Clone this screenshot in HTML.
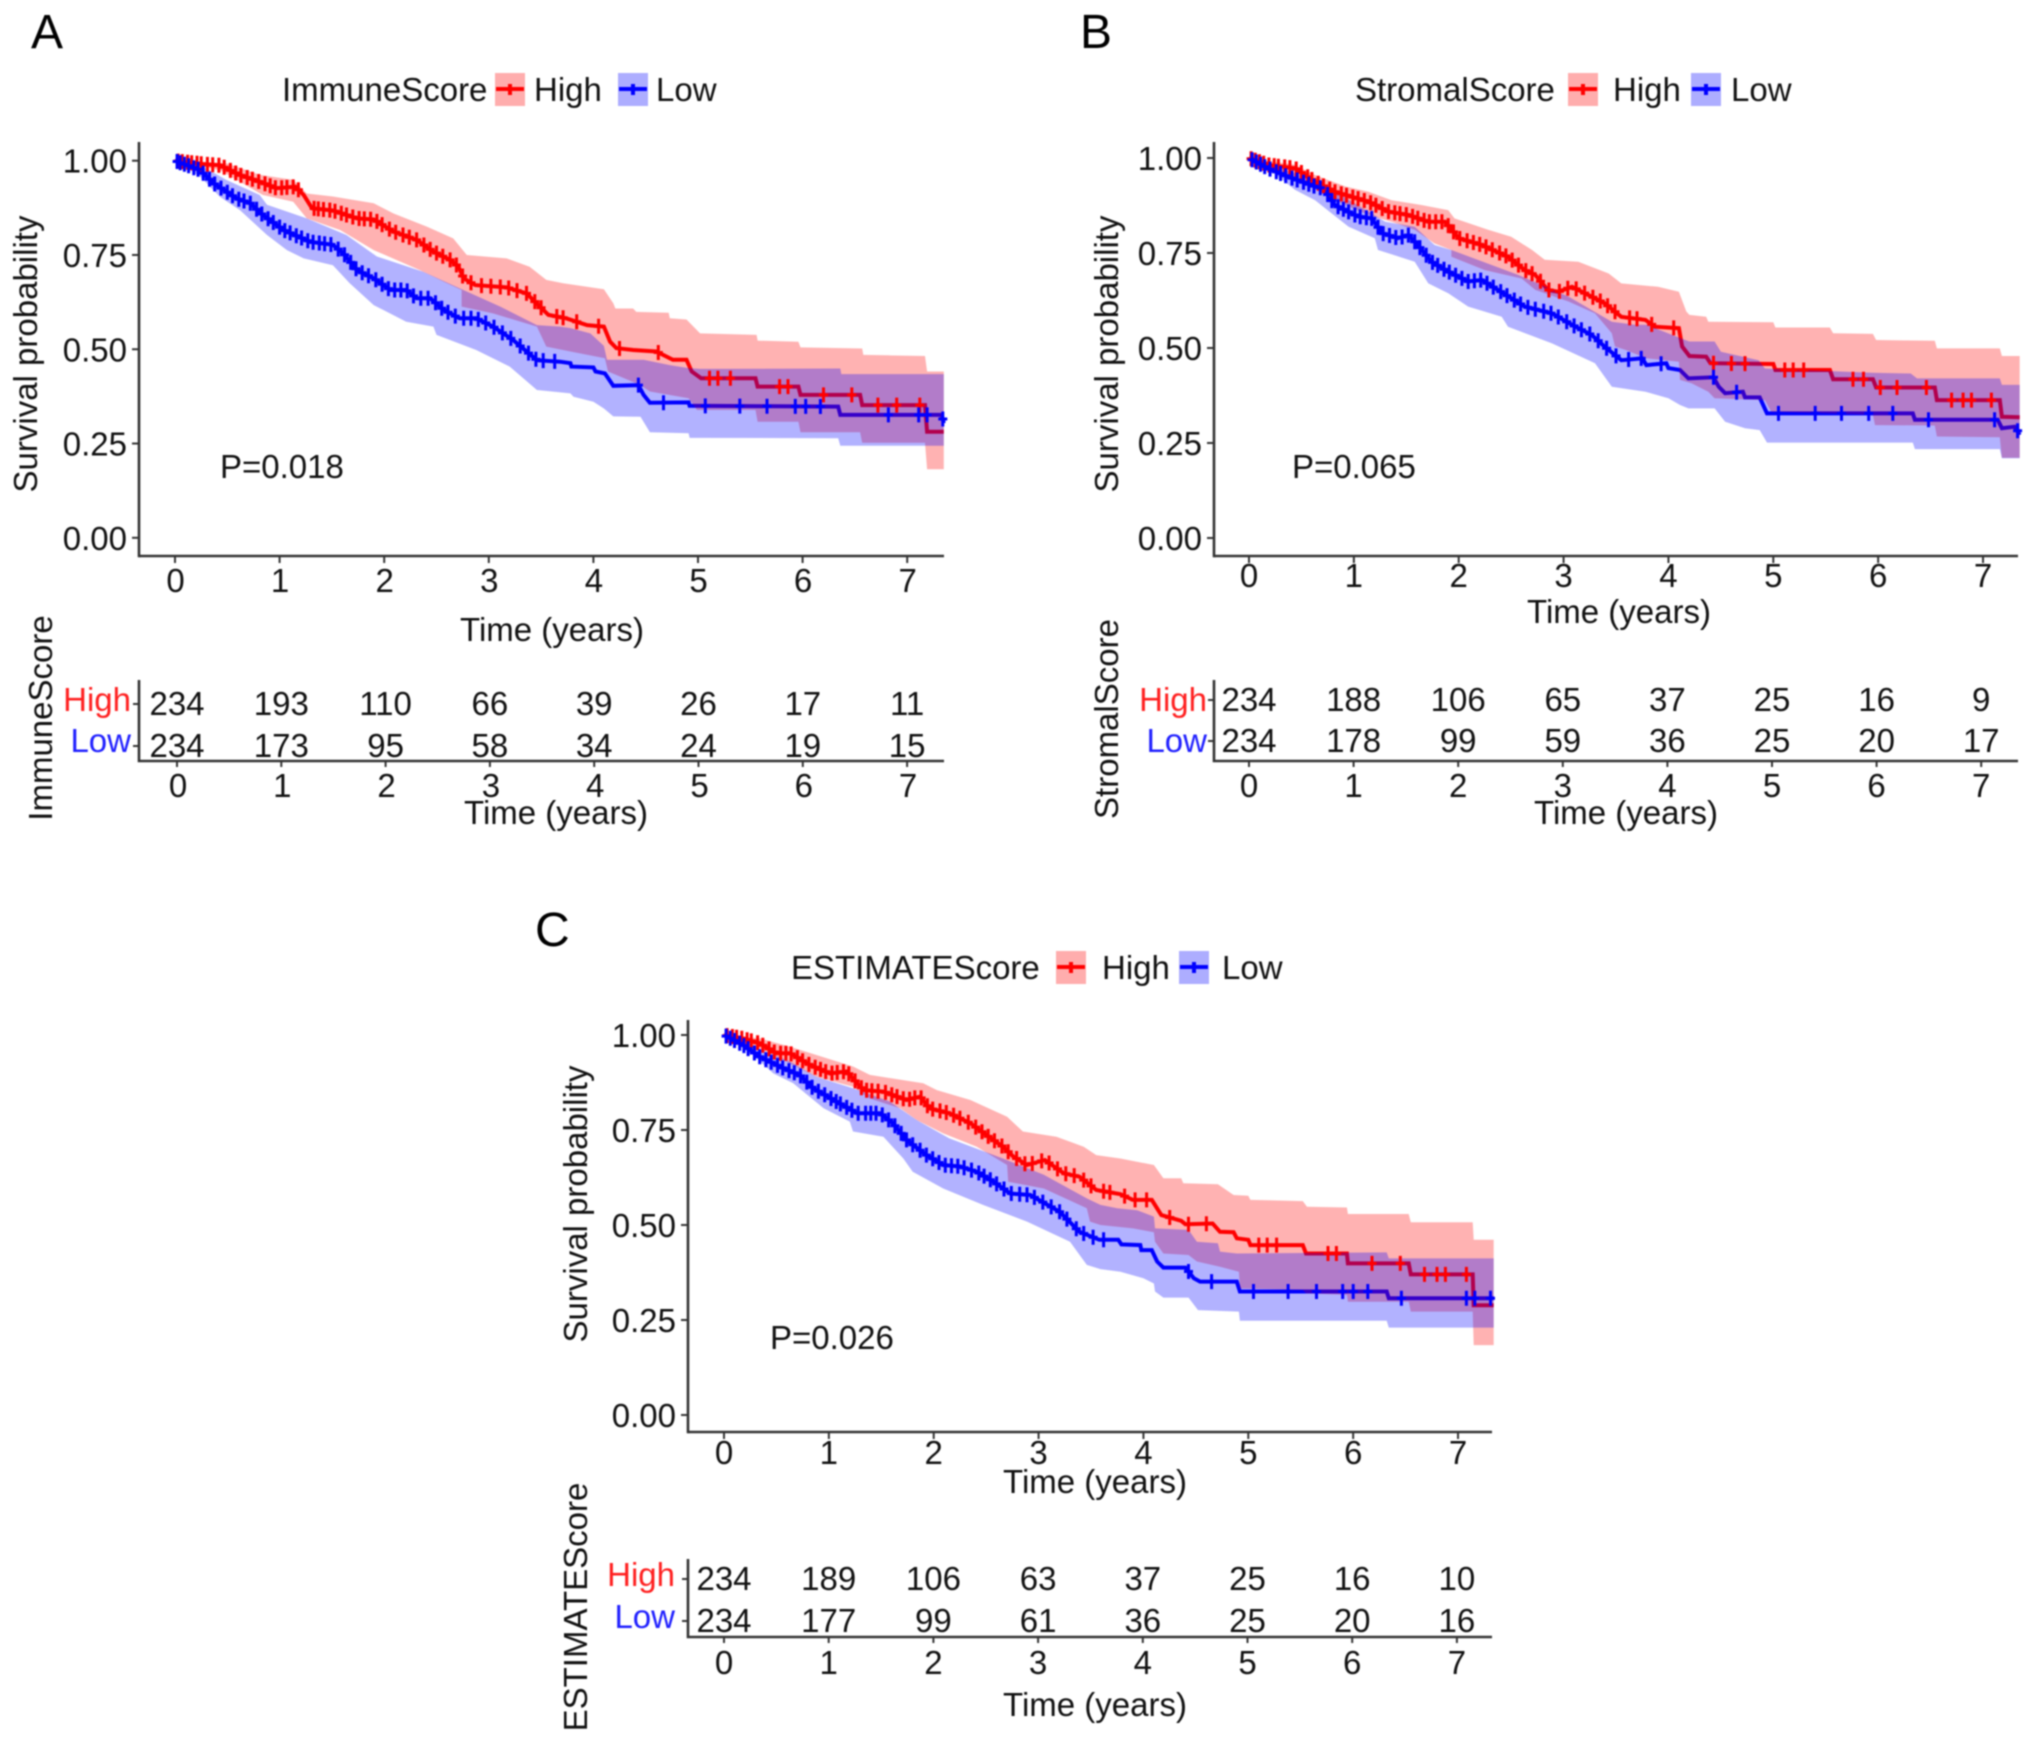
<!DOCTYPE html>
<html lang="en">
<head>
<meta charset="utf-8">
<title>Kaplan-Meier survival curves by ImmuneScore, StromalScore and ESTIMATEScore</title>
<style>
  html, body { margin: 0; padding: 0; background: #fff; }
  #figure { display: block; filter: blur(0.8px); }
  text { font-family: "Liberation Sans", sans-serif; font-size: 33px; fill: #111; }
  .letter { font-size: 48px; fill: #000; }
  .red { fill: #ff2020; }
  .blue { fill: #2020ff; }
</style>
</head>
<body>
<svg id="figure" xmlns="http://www.w3.org/2000/svg" width="2032" height="1742" viewBox="0 0 2032 1742">
  <rect width="2032" height="1742" fill="#fff"/>

  <text class="letter" x="31" y="48">A</text>
  <text x="282" y="101">ImmuneScore</text>
  <text x="534" y="101">High</text>
  <text x="656" y="101">Low</text>
  <text transform="translate(37,354) rotate(-90)" text-anchor="middle">Survival probability</text>
  <text x="552" y="641" text-anchor="middle">Time (years)</text>
  <text x="220" y="478">P=0.018</text>
  <text transform="translate(52,718) rotate(-90)" text-anchor="middle">ImmuneScore</text>
  <text class="red" x="131" y="711" text-anchor="end">High</text>
  <text class="blue" x="131" y="752" text-anchor="end">Low</text>
  <text x="556" y="824" text-anchor="middle">Time (years)</text>

  <text class="letter" x="1080" y="48">B</text>
  <text x="1355" y="101">StromalScore</text>
  <text x="1613" y="101">High</text>
  <text x="1731" y="101">Low</text>
  <text transform="translate(1118,354) rotate(-90)" text-anchor="middle">Survival probability</text>
  <text x="1619" y="623" text-anchor="middle">Time (years)</text>
  <text x="1292" y="478">P=0.065</text>
  <text transform="translate(1118,719) rotate(-90)" text-anchor="middle">StromalScore</text>
  <text class="red" x="1207" y="711" text-anchor="end">High</text>
  <text class="blue" x="1207" y="752" text-anchor="end">Low</text>
  <text x="1626" y="824" text-anchor="middle">Time (years)</text>

  <text class="letter" x="535" y="946">C</text>
  <text x="791" y="979">ESTIMATEScore</text>
  <text x="1102" y="979">High</text>
  <text x="1222" y="979">Low</text>
  <text transform="translate(587,1204) rotate(-90)" text-anchor="middle">Survival probability</text>
  <text x="1095" y="1493" text-anchor="middle">Time (years)</text>
  <text x="770" y="1349">P=0.026</text>
  <text transform="translate(587,1607) rotate(-90)" text-anchor="middle">ESTIMATEScore</text>
  <text class="red" x="675" y="1586" text-anchor="end">High</text>
  <text class="blue" x="675" y="1628" text-anchor="end">Low</text>
  <text x="1095" y="1716" text-anchor="middle">Time (years)</text>
</svg>

<script>
// Shared tick labels
const yTickValues = [0, 0.25, 0.5, 0.75, 1];
const yTickLabels = ["0.00", "0.25", "0.50", "0.75", "1.00"];
const xTickValues = [0, 1, 2, 3, 4, 5, 6, 7];

// ---------- Panel A: ImmuneScore ----------
const aHighT = [0,.27,.43,.62,.81,.97,1.15,1.23,1.31,1.51,1.74,1.90,2.09,2.31,2.47,2.63,2.71,2.76,2.87,3.17,3.36,3.57,3.74,3.94,4.10,4.16,4.22,4.38,4.60,4.76,4.89,4.94,5.03,5.55,5.57,5.96,5.98,6.55,6.57,7.17,7.19,7.36];
const aHighS = [1,.991,.988,.962,.944,.927,.931,.909,.874,.868,.847,.844,.812,.790,.759,.737,.719,.688,.670,.664,.648,.591,.582,.564,.560,.520,.503,.498,.494,.472,.472,.441,.423,.423,.401,.401,.379,.379,.352,.352,.281,.281];
const aHighUpT = [0,.49,.81,1.13,1.26,1.51,1.90,2.09,2.41,2.66,2.79,3.17,3.39,3.55,3.71,4.10,4.19,4.21,4.38,4.41,4.72,4.73,4.89,5.02,5.56,5.57,5.96,5.98,6.57,6.58,7.17,7.19,7.36];
const aHighUp = [1,.993,.963,.949,.913,.905,.887,.860,.825,.794,.750,.741,.719,.684,.675,.659,.622,.608,.608,.599,.597,.582,.579,.542,.538,.523,.520,.505,.502,.485,.482,.441,.441];
const aHighLoT = [0,.43,.62,.84,1.13,1.26,1.58,1.90,2.34,2.60,2.74,2.74,3.04,3.46,3.55,3.78,4.11,4.14,4.45,4.54,4.91,4.99,5.55,5.57,5.96,5.98,6.55,6.57,7.17,7.19,7.36];
const aHighLo = [1,.975,.944,.909,.891,.847,.816,.763,.710,.675,.657,.613,.595,.560,.507,.494,.476,.441,.405,.388,.370,.339,.339,.308,.308,.280,.280,.252,.252,.182,.182];
const aLowT = [0,.24,.37,.59,.72,.84,1.04,1.29,1.51,1.61,1.74,1.90,2.06,2.21,2.31,2.44,2.57,2.72,2.88,3.04,3.23,3.46,3.68,3.78,3.79,4.0,4.02,4.11,4.19,4.43,4.48,4.54,4.91,4.92,6.34,6.36,7.33,7.35];
const aLowS = [1,.975,.940,.900,.887,.856,.816,.785,.777,.754,.710,.688,.657,.657,.635,.635,.604,.582,.582,.560,.525,.471,.467,.463,.454,.452,.441,.436,.403,.405,.379,.358,.359,.350,.348,.326,.326,.304];
const aLowUpT = [0,.27,.49,.81,.88,1.26,1.64,1.93,2.37,2.72,3.11,3.46,3.68,3.78,3.97,4.10,4.13,4.48,4.73,4.91,5.02,6.36,6.37,7.36];
const aLowUp = [1,.984,.949,.909,.883,.847,.803,.746,.706,.662,.613,.564,.560,.556,.542,.509,.472,.472,.458,.450,.448,.449,.434,.434];
const aLowLoT = [0,.24,.43,.62,.88,1.07,1.23,1.51,1.67,1.90,2.21,2.47,2.50,2.88,3.20,3.46,3.78,3.81,4.0,4.10,4.19,4.45,4.54,4.91,4.92,6.34,6.36,7.36];
const aLowLo = [1,.958,.904,.869,.803,.763,.741,.723,.675,.617,.573,.560,.538,.498,.454,.392,.383,.374,.361,.343,.322,.321,.280,.277,.265,.264,.244,.244];
const aHighCensor = [.03,.07,.12,.16,.21,.25,.31,.36,.42,.47,.53,.58,.63,.69,.74,.8,.86,.91,.96,1.02,1.07,1.13,1.18,1.33,1.37,1.42,1.48,1.53,1.59,1.64,1.7,1.76,1.81,1.87,1.93,1.98,2.05,2.11,2.18,2.24,2.31,2.38,2.44,2.5,2.56,2.63,2.69,2.75,2.83,2.93,3.02,3.11,3.19,3.27,3.36,3.44,3.5,3.65,3.71,3.84,4.05,4.25,4.62,5.11,5.19,5.31,5.78,5.86,6.2,6.47,6.72,6.9,7.12];
const aLowCensor = [.02,.05,.09,.13,.18,.22,.27,.33,.38,.44,.5,.55,.61,.66,.72,.78,.83,.89,.94,1.0,1.05,1.1,1.16,1.21,1.27,1.32,1.38,1.43,1.49,1.56,1.62,1.68,1.73,1.79,1.85,1.92,1.98,2.04,2.1,2.16,2.22,2.28,2.35,2.42,2.49,2.55,2.61,2.68,2.76,2.83,2.9,2.97,3.05,3.13,3.21,3.3,3.38,3.45,3.52,3.63,4.43,4.67,5.07,5.4,5.66,5.93,6.03,6.17,6.82,7.11,7.19,7.34];
const aRiskHigh = ["234","193","110","66","39","26","17","11"];
const aRiskLow = ["234","173","95","58","34","24","19","15"];

// ---------- Panel B: StromalScore ----------
const bHighT = [0,.18,.44,.63,.82,1.14,1.33,1.52,1.71,1.87,2.0,2.22,2.47,2.63,2.73,2.85,2.95,3.08,3.24,3.39,3.55,3.78,3.87,4.10,4.13,4.2,4.36,4.40,5.0,5.02,5.54,5.57,5.95,5.98,6.54,6.56,7.16,7.18,7.36];
const bHighS = [1,.982,.973,.938,.911,.885,.859,.850,.832,.832,.789,.771,.740,.705,.692,.653,.648,.661,.639,.618,.582,.574,.556,.552,.504,.479,.477,.460,.458,.442,.442,.418,.418,.396,.396,.363,.363,.319,.318];
const bHighUpT = [0,.44,.63,.92,1.14,1.36,1.65,1.90,1.96,2.28,2.5,2.7,2.82,3.14,3.43,3.55,3.9,4.10,4.17,4.2,4.36,4.38,5.0,5.02,5.54,5.57,5.95,5.98,6.54,6.56,7.16,7.18,7.36];
const bHighUp = [1,.982,.955,.925,.911,.889,.876,.863,.841,.811,.793,.758,.732,.727,.696,.670,.661,.648,.596,.587,.582,.569,.568,.554,.554,.539,.537,.521,.519,.499,.499,.479,.479];
const bHighLoT = [0,.63,.82,1.14,1.36,1.58,1.77,1.93,1.93,2.25,2.6,2.73,3.05,3.3,3.46,3.49,3.59,3.79,4.10,4.11,4.22,4.38,4.44,4.92,4.98,5.54,5.95,5.97,6.54,6.56,7.16,7.18,7.36];
const bHighLo = [1,.920,.889,.850,.832,.811,.775,.758,.740,.705,.683,.653,.622,.591,.539,.504,.495,.473,.464,.416,.407,.385,.368,.363,.332,.328,.324,.297,.296,.267,.265,.211,.211];
const bLowT = [0,.18,.37,.63,.71,.82,1.04,1.17,1.27,1.42,1.52,1.61,1.74,1.9,2.09,2.22,2.35,2.5,2.63,2.89,3.08,3.27,3.39,3.55,3.75,3.79,3.98,4.0,4.11,4.19,4.43,4.48,4.54,4.71,4.73,4.87,4.94,6.33,6.35,7.14,7.18,7.3,7.36];
const bLowS = [1,.973,.951,.925,.920,.876,.846,.841,.802,.789,.797,.771,.727,.701,.675,.679,.657,.631,.609,.591,.561,.534,.504,.468,.473,.455,.460,.447,.442,.420,.423,.398,.381,.385,.370,.370,.328,.328,.311,.311,.289,.293,.271];
const bLowUpT = [0,.63,.69,1.3,1.58,1.77,1.93,2.57,3.05,3.46,3.68,3.79,4.16,4.2,4.44,4.5,4.86,4.92,5.94,6.31,6.37,7.16,7.18,7.36];
const bLowUp = [1,.942,.933,.832,.819,.771,.758,.692,.635,.569,.561,.561,.521,.517,.517,.490,.468,.446,.435,.433,.420,.420,.403,.403];
const bLowLoT = [0,.22,.44,.63,.79,.95,1.2,1.23,1.58,1.71,1.9,2.09,2.41,2.47,2.89,3.3,3.46,3.78,4.0,4.11,4.19,4.44,4.54,4.73,4.87,4.94,6.33,6.35,7.16,7.18,7.36];
const bLowLo = [1,.964,.916,.889,.854,.819,.789,.758,.727,.670,.644,.609,.582,.556,.512,.460,.398,.385,.368,.350,.341,.341,.306,.289,.284,.251,.251,.234,.234,.210,.210];
const bHighCensor = [.02,.06,.1,.14,.19,.24,.28,.34,.39,.45,.5,.56,.6,.66,.71,.77,.82,.88,.93,.99,1.04,1.1,1.16,1.21,1.27,1.33,1.39,1.44,1.5,1.56,1.61,1.67,1.72,1.78,1.84,1.9,1.95,2.01,2.08,2.14,2.2,2.26,2.32,2.39,2.45,2.51,2.57,2.64,2.7,2.78,2.86,2.96,3.04,3.12,3.2,3.28,3.35,3.42,3.49,3.63,3.70,3.84,4.05,4.43,4.6,4.73,5.11,5.19,5.29,5.76,5.86,6.02,6.18,6.46,6.7,6.81,6.89,7.08];
const bLowCensor = [.03,.07,.11,.15,.2,.26,.3,.35,.41,.46,.52,.57,.62,.68,.75,.79,.85,.9,.95,1.01,1.06,1.12,1.17,1.23,1.28,1.34,1.4,1.46,1.52,1.58,1.63,1.69,1.75,1.8,1.86,1.91,1.97,2.03,2.09,2.15,2.21,2.27,2.33,2.4,2.46,2.53,2.59,2.66,2.73,2.81,2.88,2.95,3.03,3.1,3.17,3.25,3.33,3.41,3.5,3.62,3.74,3.93,4.43,4.65,5.05,5.4,5.65,5.91,6.14,6.48,7.11,7.33];
const bRiskHigh = ["234","188","106","65","37","25","16","9"];
const bRiskLow = ["234","178","99","59","36","25","20","17"];

// ---------- Panel C: ESTIMATEScore ----------
const cHighT = [0,.18,.34,.5,.63,.82,1.01,1.17,1.27,1.33,1.52,1.74,1.87,1.96,2.15,2.35,2.5,2.66,2.76,2.89,3.06,3.24,3.39,3.55,3.78,3.9,4.08,4.17,4.36,4.4,4.66,4.73,4.86,4.89,5.0,5.02,5.52,5.55,5.94,5.95,6.53,6.55,7.14,7.15,7.34];
const cHighS = [1,.991,.978,.952,.952,.921,.899,.904,.873,.855,.851,.829,.838,.807,.794,.768,.737,.706,.680,.658,.671,.636,.627,.592,.581,.566,.566,.526,.511,.502,.504,.482,.481,.465,.461,.447,.447,.425,.425,.399,.399,.370,.370,.289,.289];
const cHighUpT = [0,.34,.63,.98,1.23,1.39,1.9,2.03,2.35,2.7,2.85,3.17,3.43,3.55,3.78,4.10,4.19,4.36,4.38,4.71,4.86,5.0,5.02,5.52,5.56,5.94,5.95,6.53,6.55,7.14,7.15,7.34];
const cHighUp = [1,.991,.969,.939,.917,.895,.873,.855,.829,.785,.746,.732,.706,.684,.675,.658,.623,.623,.61,.607,.579,.577,.566,.563,.548,.546,.529,.529,.507,.507,.461,.461];
const cHighLoT = [0,.34,.63,.88,1.23,1.39,1.68,1.84,2.09,2.41,2.70,2.71,3.05,3.46,3.49,3.59,3.9,4.10,4.11,4.19,4.43,4.51,4.73,4.91,4.92,5.52,5.55,5.94,5.95,6.53,6.55,7.14,7.15,7.34];
const cHighLo = [1,.965,.925,.890,.864,.833,.807,.776,.741,.706,.658,.614,.596,.544,.509,.5,.491,.481,.456,.425,.421,.404,.390,.377,.333,.329,.32,.316,.298,.298,.272,.272,.184,.184];
const cLowT = [0,.18,.34,.57,.72,.85,1.07,1.27,1.49,1.61,1.74,1.93,2.09,2.25,2.41,2.57,2.73,2.92,3.2,3.39,3.58,3.76,3.79,3.97,3.98,4.08,4.13,4.19,4.4,4.48,4.54,4.89,4.92,6.32,6.34,7.13,7.34];
const cLowS = [1,.974,.943,.912,.895,.86,.825,.794,.794,.768,.724,.684,.658,.654,.640,.614,.583,.579,.535,.482,.461,.461,.449,.447,.434,.434,.404,.388,.388,.360,.351,.351,.325,.325,.307,.307,.307];
const cLowUpT = [0,.25,.63,.88,1.23,1.58,1.84,2.15,2.66,3.05,3.46,3.59,3.75,3.94,4.10,4.11,4.43,4.51,4.71,4.73,4.89,6.32,6.34,7.34];
const cLowUp = [1,.974,.93,.89,.86,.825,.776,.728,.675,.632,.570,.553,.544,.539,.522,.491,.487,.456,.452,.43,.425,.428,.412,.412];
const cLowLoT = [0,.22,.47,.66,.95,1.2,1.23,1.52,1.71,1.8,2.09,2.47,2.89,3.3,3.46,3.59,3.78,4.0,4.10,4.11,4.19,4.43,4.52,4.91,4.92,6.32,6.34,7.34];
const cLowLo = [1,.961,.899,.873,.807,.772,.746,.732,.675,.64,.596,.553,.509,.456,.395,.384,.377,.36,.346,.325,.309,.309,.276,.272,.248,.248,.23,.23];
const cHighCensor = [.03,.08,.12,.17,.22,.26,.32,.37,.43,.48,.54,.59,.64,.7,.75,.81,.87,.92,.97,1.03,1.08,1.14,1.19,1.25,1.31,1.36,1.41,1.47,1.54,1.6,1.65,1.71,1.77,1.82,1.88,1.94,1.99,2.06,2.12,2.19,2.25,2.33,2.4,2.46,2.52,2.58,2.65,2.71,2.79,2.87,2.94,3.03,3.1,3.18,3.26,3.34,3.43,3.5,3.62,3.68,3.82,3.92,4.03,4.25,4.43,4.6,5.1,5.18,5.27,5.76,5.84,6.18,6.45,6.68,6.8,6.88,7.08];
const cLowCensor = [.02,.06,.1,.15,.19,.23,.29,.34,.4,.45,.51,.56,.62,.67,.73,.79,.84,.9,.96,1.02,1.07,1.11,1.17,1.22,1.28,1.35,1.4,1.45,1.51,1.57,1.63,1.69,1.74,1.8,1.87,1.93,1.99,2.05,2.11,2.17,2.23,2.29,2.36,2.43,2.48,2.54,2.6,2.67,2.74,2.82,2.89,2.96,3.04,3.12,3.2,3.27,3.36,3.43,3.52,3.62,4.43,4.65,5.05,5.38,5.65,5.9,6.0,6.14,6.46,7.08,7.16,7.31];
const cRiskHigh = ["234","189","106","63","37","25","16","10"];
const cRiskLow = ["234","177","99","61","36","25","20","16"];

const SVGNS = "http://www.w3.org/2000/svg";
const root = document.getElementById("figure");

function make(tag, attrs, parent) {
  const el = document.createElementNS(SVGNS, tag);
  for (const k in attrs) el.setAttribute(k, attrs[k]);
  parent.appendChild(el);
  return el;
}

function interp(ts, vs, t) {
  if (t <= ts[0]) return vs[0];
  for (let i = 1; i < ts.length; i++) {
    if (t <= ts[i]) {
      const f = (t - ts[i - 1]) / ((ts[i] - ts[i - 1]) || 1);
      return vs[i - 1] + f * (vs[i] - vs[i - 1]);
    }
  }
  return vs[vs.length - 1];
}

function curvePoints(ts, vs, xAxis, yAxis) {
  const pts = [];
  for (let i = 0; i < ts.length; i++) {
    pts.push(xAxis(Math.min(ts[i], 7.35)).toFixed(1) + "," + yAxis(vs[i]).toFixed(1));
  }
  return pts;
}

function drawLegendKey(prefix, groupName, colorRgb, colorLine, x, top, parent) {
  const key = make("rect", { x: x, y: top, width: 30, height: 33, fill: colorRgb, "fill-opacity": 0.32 }, parent);
  
  
  const line = make("path", { d: "M" + (x + 1) + " " + (top + 16) + "H" + (x + 29) + "M" + (x + 15) + " " + (top + 11) + "V" + (top + 22), stroke: colorLine, "stroke-width": 4, fill: "none" }, parent);
  
  
}

function drawSeries(prefix, groupName, color, opacityFill, s, xAxis, yAxis, lineLayer, bandLayer, markLayer) {
  const line = make("polyline", { points: curvePoints(s.t, s.s, xAxis, yAxis).join(" "), fill: "none", stroke: color, "stroke-width": 4, "stroke-linejoin": "miter" }, lineLayer);
  
  

  const poly = curvePoints(s.upT, s.up, xAxis, yAxis).concat(curvePoints(s.loT, s.lo, xAxis, yAxis).reverse());
  const band = make("polygon", { points: poly.join(" "), fill: color, "fill-opacity": opacityFill, stroke: "none" }, bandLayer);
  
  

  s.censor.forEach(function (t) {
    const cx = xAxis(t), cy = yAxis(interp(s.t, s.s, t));
    const mark = make("path", { d: "M" + cx.toFixed(1) + " " + (cy - 7.5).toFixed(1) + "V" + (cy + 7.5).toFixed(1) + "M" + (cx - 4.5).toFixed(1) + " " + cy.toFixed(1) + "H" + (cx + 4.5).toFixed(1), stroke: color, "stroke-width": 3, fill: "none" }, markLayer);
    
    
  });
}

function drawPanel(p) {
  const xAxis = function (t) { return p.x0 + t * p.xPerYear; };
  const yAxis = function (v) { return p.y0 - v * p.yPerUnit; };
  const g = make("g", {}, root);
  
  

  drawLegendKey(p.name, "high", "#ff0000", "#ff0000", p.keyHighX, p.keyTop, g);
  drawLegendKey(p.name, "low", "#0000ff", "#0000ff", p.keyLowX, p.keyTop, g);

  const lines = make("g", {}, g);
  
  
  const bands = make("g", {}, g);
  
  
  const marks = make("g", {}, g);
  
  

  drawSeries(p.name, "high", "#ff0000", 0.3, p.high, xAxis, yAxis, lines, bands, marks);
  drawSeries(p.name, "low", "#0000ff", 0.3, p.low, xAxis, yAxis, lines, bands, marks);

  const axisColor = "#333";
  const yLine = make("path", { d: "M" + p.axisX + " " + p.axisTop + "V" + (p.axisBottom + 1.2), stroke: axisColor, "stroke-width": 2.6, fill: "none" }, g);
  
  
  const xLine = make("path", { d: "M" + p.axisX + " " + p.axisBottom + "H" + p.axisEnd, stroke: axisColor, "stroke-width": 2.6, fill: "none" }, g);
  
  

  yTickValues.forEach(function (v, i) {
    const tick = make("path", { d: "M" + (p.axisX - 7) + " " + yAxis(v) + "H" + p.axisX, stroke: axisColor, "stroke-width": 2, fill: "none" }, g);
    
    
    const label = make("text", { x: p.axisX - 12, y: yAxis(v) + 12, "text-anchor": "end" }, g);
    label.textContent = yTickLabels[i];
    
    
  });

  xTickValues.forEach(function (t, i) {
    const tick = make("path", { d: "M" + xAxis(t) + " " + p.axisBottom + "v7", stroke: axisColor, "stroke-width": 2, fill: "none" }, g);
    
    
    const label = make("text", { x: xAxis(t) + p.xLabelShift, y: p.xLabelY, "text-anchor": "middle" }, g);
    label.textContent = String(t);
    
    

    const riskX = p.riskX0 + t * p.riskPerYear;
    const hi = make("text", { x: riskX, y: p.riskHighY, "text-anchor": "middle" }, g);
    hi.textContent = p.riskHigh[i];
    
    
    const lo = make("text", { x: riskX, y: p.riskLowY, "text-anchor": "middle" }, g);
    lo.textContent = p.riskLow[i];
    
    

    const rTick = make("path", { d: "M" + riskX + " " + p.riskAxisY + "v6", stroke: axisColor, "stroke-width": 2, fill: "none" }, g);
    
    
    const rLabel = make("text", { x: riskX + p.riskLabelShift, y: p.riskLabelY, "text-anchor": "middle" }, g);
    rLabel.textContent = String(t);
    
    
  });

  const rAxis = make("path", { d: "M" + p.axisX + " " + p.riskAxisTop + "V" + p.riskAxisY + "H" + p.axisEnd, stroke: axisColor, "stroke-width": 2.6, fill: "none" }, g);
  
  
  [p.riskHighY - 11, p.riskLowY - 11].forEach(function (ty) {
    const rowTick = make("path", { d: "M" + (p.axisX - 6) + " " + ty + "H" + p.axisX, stroke: axisColor, "stroke-width": 2, fill: "none" }, g);
    
    
  });
}

drawPanel({
  name: "panel-a", x0: 175, xPerYear: 104.6, y0: 537.8, yPerUnit: 377.1,
  axisX: 139, axisTop: 142, axisBottom: 556, axisEnd: 944,
  xLabelY: 592, xLabelShift: 0.5, keyHighX: 495, keyLowX: 618, keyTop: 73,
  riskX0: 177, riskPerYear: 104.3, riskHighY: 715, riskLowY: 757, riskAxisY: 761, riskAxisTop: 680,
  riskLabelY: 797, riskLabelShift: 1,
  riskHigh: aRiskHigh, riskLow: aRiskLow,
  high: { t: aHighT, s: aHighS, upT: aHighUpT, up: aHighUp, loT: aHighLoT, lo: aHighLo, censor: aHighCensor },
  low: { t: aLowT, s: aLowS, upT: aLowUpT, up: aLowUp, loT: aLowLoT, lo: aLowLo, censor: aLowCensor }
});

drawPanel({
  name: "panel-b", x0: 1249, xPerYear: 104.86, y0: 538, yPerUnit: 380,
  axisX: 1214, axisTop: 142, axisBottom: 556, axisEnd: 2018,
  xLabelY: 587, xLabelShift: 0, keyHighX: 1568, keyLowX: 1691, keyTop: 73,
  riskX0: 1249, riskPerYear: 104.6, riskHighY: 711, riskLowY: 752, riskAxisY: 761, riskAxisTop: 680,
  riskLabelY: 797, riskLabelShift: 0,
  riskHigh: bRiskHigh, riskLow: bRiskLow,
  high: { t: bHighT, s: bHighS, upT: bHighUpT, up: bHighUp, loT: bHighLoT, lo: bHighLo, censor: bHighCensor },
  low: { t: bLowT, s: bLowS, upT: bLowUpT, up: bLowUp, loT: bLowLoT, lo: bLowLo, censor: bLowCensor }
});

drawPanel({
  name: "panel-c", x0: 724, xPerYear: 104.86, y0: 1415, yPerUnit: 380,
  axisX: 688, axisTop: 1020, axisBottom: 1432, axisEnd: 1492,
  xLabelY: 1464, xLabelShift: 0, keyHighX: 1056, keyLowX: 1179, keyTop: 951,
  riskX0: 724, riskPerYear: 104.7, riskHighY: 1590, riskLowY: 1632, riskAxisY: 1637, riskAxisTop: 1559,
  riskLabelY: 1674, riskLabelShift: 0,
  riskHigh: cRiskHigh, riskLow: cRiskLow,
  high: { t: cHighT, s: cHighS, upT: cHighUpT, up: cHighUp, loT: cHighLoT, lo: cHighLo, censor: cHighCensor },
  low: { t: cLowT, s: cLowS, upT: cLowUpT, up: cLowUp, loT: cLowLoT, lo: cLowLo, censor: cLowCensor }
});
</script>
</body>
</html>
